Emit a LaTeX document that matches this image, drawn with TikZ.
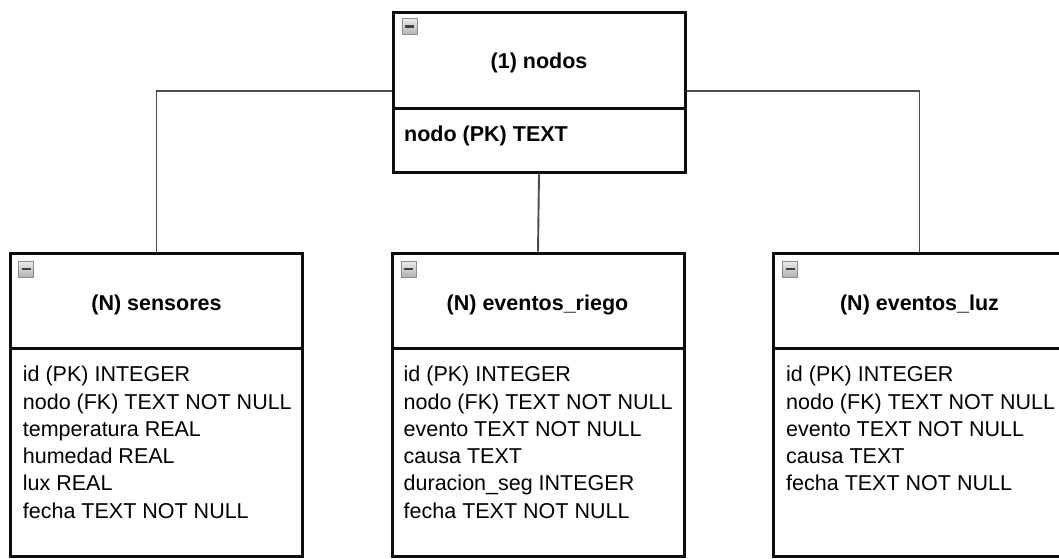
\documentclass[tikz,border=0pt]{standalone}
\usepackage{fontspec}
\setmainfont{Liberation Sans}
\usetikzlibrary{calc}

\tikzset{
  tbl/.style={draw=black!95, line width=3pt, inner sep=0pt, minimum width=292pt, fill=white},
  conn/.style={draw=black!70, line width=1.9pt},
  title/.style={font=\bfseries\fontsize{21.5}{26}\selectfont, anchor=base, inner sep=0pt},
  pkfield/.style={font=\bfseries\fontsize{21.5}{26}\selectfont, anchor=base west, inner sep=0pt},
  field/.style={font=\fontsize{21.5}{26}\selectfont, anchor=base west, inner sep=0pt},
  toggle/.style={draw=black!45, line width=0.8pt, top color=black!8, bottom color=black!30,
    minimum width=15pt, minimum height=16pt, inner sep=0pt,
    path picture={\draw[black!75, line width=2.4pt]
      ($(path picture bounding box.west)+(3pt,0)$) -- ($(path picture bounding box.east)+(-3pt,0)$);}}
}

\begin{document}
\begin{tikzpicture}[x=1pt,y=-1pt]
\useasboundingbox (0,0) rectangle (1059,558);
\clip (0,0) rectangle (1059,558);
\fill[white] (0,0) rectangle (1059,558);

% table boxes: header part and field part
\node[tbl, minimum height=96pt]  (nodosH) at (539,60)    {};
\node[tbl, minimum height=64pt]  (nodosB) at (539,140)   {};
\node[tbl, minimum height=95pt]  (sensH)  at (156.5,300.5) {};
\node[tbl, minimum height=208pt] (sensB)  at (156.5,452) {};
\node[tbl, minimum height=95pt]  (riegoH) at (538,300.5) {};
\node[tbl, minimum height=208pt] (riegoB) at (538,452)   {};
\node[tbl, minimum height=95pt]  (luzH)   at (919.5,300.5) {};
\node[tbl, minimum height=208pt] (luzB)   at (919.5,452) {};

% relationship lines
\draw[conn] ([yshift=-31pt]nodosH.west) -| (sensH.north);
\draw[conn] ([yshift=-31pt]nodosH.east) -| (luzH.north);
\draw[conn] (nodosB.south) -- (riegoH.north);

% collapse toggles
\node[toggle] (nodosX) at (409.5,26.5) {};
\node[toggle] (sensX)  at (26,269)     {};
\node[toggle] (riegoX) at (408.5,269)  {};
\node[toggle] (luzX)   at (790,269)    {};

% titles
\node[title] (nodosT) at (539,68.3)   {(1) nodos};
\node[title] (sensT)  at (156.5,310)  {(N) sensores};
\node[title] (riegoT) at (537.5,310)  {(N) eventos\_riego};
\node[title] (luzT)   at (919.5,310)  {(N) eventos\_luz};

% fields
\node[pkfield] (nodosF) at (404,141.7) {nodo (PK) TEXT};

\foreach \t [count=\i] in {id (PK) INTEGER, nodo (FK) TEXT NOT NULL, temperatura REAL,
    humedad REAL, lux REAL, fecha TEXT NOT NULL}
  \node[field] (sensF\i) at (22.7,{381.7+27.3*(\i-1)}) {\t};

\foreach \t [count=\i] in {id (PK) INTEGER, nodo (FK) TEXT NOT NULL, evento TEXT NOT NULL,
    causa TEXT, duracion\_seg INTEGER, fecha TEXT NOT NULL}
  \node[field] (riegoF\i) at (403.5,{381.7+27.3*(\i-1)}) {\t};

\foreach \t [count=\i] in {id (PK) INTEGER, nodo (FK) TEXT NOT NULL, evento TEXT NOT NULL,
    causa TEXT, fecha TEXT NOT NULL}
  \node[field] (luzF\i) at (786,{381.7+27.3*(\i-1)}) {\t};
\end{tikzpicture}
\end{document}
